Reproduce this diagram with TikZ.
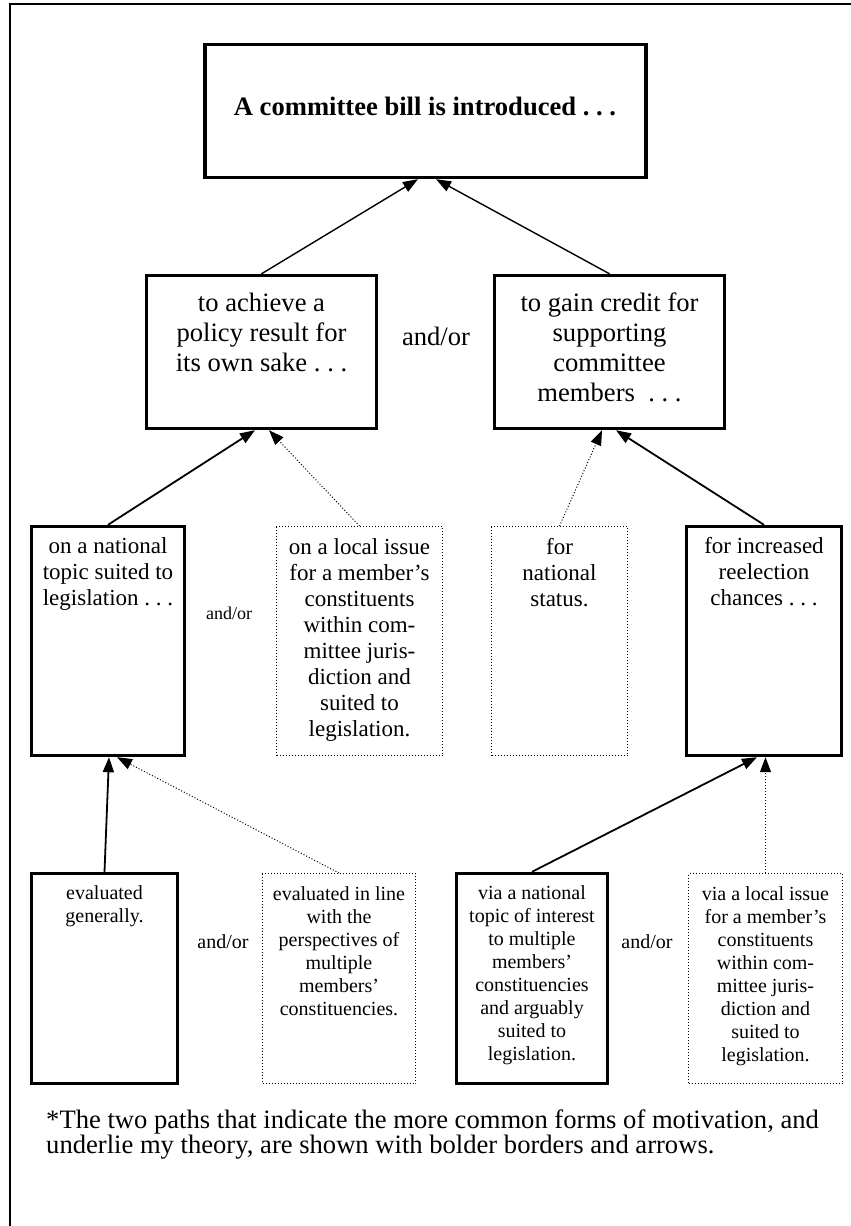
\documentclass[tikz,border=0pt]{standalone}
\usepackage{fontspec}
\setmainfont{Liberation Serif}
\usetikzlibrary{arrows.meta}

\begin{document}
\begin{tikzpicture}[x=1pt, y=-1pt,
  solidbox/.style={draw, line width=3.4pt, inner sep=0pt},
  dotbox/.style={draw, dotted, line width=1pt, inner sep=0pt},
  txt/.style={inner sep=0pt, anchor=north, align=center},
  strong/.style={line width=1.8pt, -{Triangle[length=15pt, width=11pt]}},
  weak/.style={line width=1pt, dotted, -{Triangle[length=15pt, width=11pt]}},
  big/.style={font=\fontsize{26.6}{30}\selectfont},
  mid/.style={font=\fontsize{23}{26}\selectfont},
  low/.style={font=\fontsize{20}{23}\selectfont}]
\useasboundingbox (0,0) rectangle (851,1226);
\draw[line width=1.8pt] (10,1226) -- (10,4) -- (851,4);
% boxes
\node[solidbox, minimum width=441, minimum height=133] (bill) at (425.5,111) {};
\node[solidbox, minimum width=230, minimum height=153] (policy) at (261.5,352) {};
\node[solidbox, minimum width=230, minimum height=153] (credit) at (609.5,352) {};
\node[solidbox, minimum width=153, minimum height=229] (natl) at (108,641) {};
\node[dotbox, minimum width=166, minimum height=229] (local) at (359.5,641) {};
\node[dotbox, minimum width=136, minimum height=229] (status) at (559.5,641) {};
\node[solidbox, minimum width=155, minimum height=229] (reelect) at (764,641) {};
\node[solidbox, minimum width=146, minimum height=210] (general) at (104.5,978.5) {};
\node[dotbox, minimum width=153, minimum height=210] (persp) at (339,978.5) {};
\node[solidbox, minimum width=151, minimum height=210] (viantl) at (532,978.5) {};
\node[dotbox, minimum width=154, minimum height=210] (vialoc) at (765.5,978.5) {};
% texts
\node[anchor=base, inner sep=0pt, font=\fontsize{26.6}{30}\selectfont\bfseries] (billtxt) at (425,115) {A committee bill is introduced .\ .\ .};
\node[txt, big] (policytxt) at ([yshift=-18.6pt]policy.north) {to achieve a\\policy result for\\its own sake .\ .\ .};
\node[txt, big] (credittxt) at ([yshift=-18.6pt]credit.north) {to gain credit for\\supporting\\committee\\members\ \ .\ .\ .};
\node[txt, mid] (natltxt) at ([yshift=-12.3pt]natl.north) {on a national\\topic suited to\\legislation .\ .\ .};
\node[txt, mid] (localtxt) at ([yshift=-12.3pt]local.north) {on a local issue\\for a member’s\\constituents\\within com-\\mittee juris-\\diction and\\suited to\\legislation.};
\node[txt, mid] (statustxt) at ([yshift=-12.3pt]status.north) {for\\national\\status.};
\node[txt, mid] (reelecttxt) at ([yshift=-12.3pt]reelect.north) {for increased\\reelection\\chances .\ .\ .};
\node[txt, low] (generaltxt) at ([yshift=-13.3pt]general.north) {evaluated\\generally.};
\node[txt, low] (persptxt) at ([yshift=-13.3pt]persp.north) {evaluated in line\\with the\\perspectives of\\multiple\\members’\\constituencies.};
\node[txt, low] (viantltxt) at ([yshift=-13.3pt]viantl.north) {via a national\\topic of interest\\to multiple\\members’\\constituencies\\and arguably\\suited to\\legislation.};
\node[txt, low] (vialoctxt) at ([yshift=-13.3pt]vialoc.north) {via a local issue\\for a member’s\\constituents\\within com-\\mittee juris-\\diction and\\suited to\\legislation.};
\node[anchor=base, inner sep=0pt, big] (or1) at (436,345) {and/or};
\node[anchor=base, inner sep=0pt, font=\fontsize{18}{20}\selectfont] (or2) at (229,619) {and/or};
\node[anchor=base, inner sep=0pt, low] (or3) at (223,948) {and/or};
\node[anchor=base, inner sep=0pt, low] (or4) at (647,948) {and/or};
\node[anchor=north west, inner sep=0pt, align=left, font=\fontsize{26.6}{25}\selectfont] (note) at (46,1110) {*The two paths that indicate the more common forms of motivation, and\\underlie my theory, are shown with bolder borders and arrows.};
% arrows
\draw[strong, line width=1.4pt] (policy.north) -- ([xshift=-7.5pt]bill.south);
\draw[strong, line width=1.4pt] (credit.north) -- ([xshift=10.5pt]bill.south);
\draw[strong] (natl.north) -- ([xshift=-6.5pt]policy.south);
\draw[weak] (local.north) -- ([xshift=7.5pt]policy.south);
\draw[weak] (status.north) -- ([xshift=-7.5pt]credit.south);
\draw[strong] (reelect.north) -- ([xshift=6.5pt]credit.south);
\draw[strong] (general.north) -- ([xshift=1pt]natl.south);
\draw[weak] (persp.north) -- ([xshift=9pt]natl.south);
\draw[strong] (viantl.north) -- ([xshift=-7pt]reelect.south);
\draw[weak] (vialoc.north) -- (vialoc.north |- reelect.south);
\end{tikzpicture}
\end{document}
